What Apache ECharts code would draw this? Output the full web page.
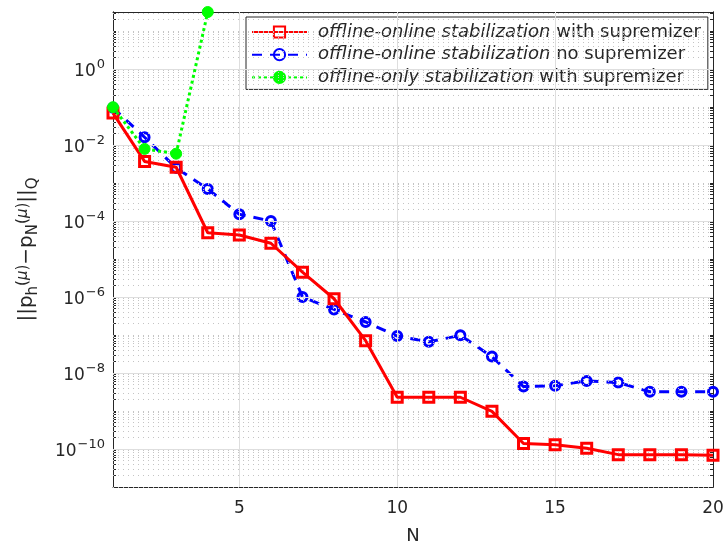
<!DOCTYPE html>
<html>
<head>
<meta charset="utf-8">
<script src="https://cdn.jsdelivr.net/npm/echarts@6/dist/echarts.min.js"></script>
<style>html,body{margin:0;padding:0;background:#fff}#c{width:727px;height:546px}</style>
</head>
<body>
<div id="c"></div>
<script>
const nValues = [1,2,3,4,5,6,7,8,9,10,11,12,13,14,15,16,17,18,19,20];
const ooWithSup = [0.069,3.7e-3,2.6e-3,4.9e-5,4.3e-5,2.6e-5,4.5e-6,9e-7,7.1e-8,2.3e-9,2.3e-9,2.3e-9,9.8e-10,1.4e-10,1.3e-10,1.05e-10,7.1e-11,7.1e-11,7.1e-11,6.8e-11];
const ooNoSup = [0.095,0.016,2.5e-3,7e-4,1.5e-4,1.0e-4,1.0e-6,4.7e-7,2.2e-7,9.4e-8,6.6e-8,9.8e-8,2.7e-8,4.4e-9,4.6e-9,6.2e-9,5.6e-9,3.2e-9,3.2e-9,3.2e-9];
const offWithSup = [0.099,7.9e-3,5.9e-3,31.6];
const xTicks = [5,10,15,20];
const yTicks = [1e-10,1e-8,1e-6,1e-4,1e-2,1];
const seriesNames = [
  'offline-online stabilization|with supremizer',
  'offline-online stabilization|no supremizer',
  'offline-only stabilization|with supremizer'
];

const yMin = 1e-11, yMax = Math.pow(10, 1.5);
const minorVals = [];
for (let k = -11; k <= 1; k++) {
  for (let m = 1; m <= 9; m++) {
    if (m === 1 && k % 2 === 0) continue;
    const v = m * Math.pow(10, k);
    if (v >= yMin && v <= yMax) minorVals.push(v);
  }
}

const pairs = (arr) => arr.map((v, i) => [nValues[i], v]);
const FONT = 'DejaVu Sans';
const TXT = '#262626';

const chart = echarts.init(document.getElementById('c'), null, {renderer: 'canvas'});

const yBase = {
  type: 'log', min: yMin, max: yMax, logBase: 10,
  axisLine: {show: true, lineStyle: {color: TXT, width: 1}},
  splitLine: {show: false}, minorTick: {show: false}, minorSplitLine: {show: false}
};

chart.setOption({
  animation: false,
  grid: {left: 113, right: 14, top: 12, bottom: 59, containLabel: false, outerBoundsMode: 'none'},
  legend: {
    data: seriesNames,
    orient: 'vertical',
    left: 246, top: 17,
    padding: [6, 7, 3, 5],
    itemWidth: 55, itemHeight: 14, itemGap: 4.7,
    backgroundColor: '#fff',
    borderColor: TXT, borderWidth: 1,
    formatter: (name) => {
      const p = name.split('|');
      return '{i|' + p[0] + '} {n|' + p[1] + '}';
    },
    textStyle: {
      fontFamily: FONT, fontSize: 18, color: TXT, padding: [0, 0, 0, 6], lineHeight: 18,
      rich: {
        i: {fontFamily: FONT, fontSize: 18, fontStyle: 'italic', color: TXT, lineHeight: 18},
        n: {fontFamily: FONT, fontSize: 18, color: TXT, lineHeight: 18}
      }
    }
  },
  xAxis: [{
    type: 'value', min: 1, max: 20, position: 'bottom',
    name: 'N', nameLocation: 'middle', nameGap: 40,
    nameTextStyle: {fontFamily: FONT, fontSize: 18, color: TXT},
    axisLine: {show: true, onZero: false, lineStyle: {color: TXT, width: 1}},
    axisTick: {show: true, inside: true, length: 6, customValues: xTicks, lineStyle: {color: TXT}},
    axisLabel: {show: true, customValues: xTicks, margin: 13, fontFamily: FONT, fontSize: 17, color: TXT},
    splitLine: {show: false}
  }, {
    type: 'value', min: 1, max: 20, position: 'top',
    axisLine: {show: true, onZero: false, lineStyle: {color: TXT, width: 1}},
    axisTick: {show: true, inside: true, length: 6, customValues: xTicks, lineStyle: {color: TXT}},
    axisLabel: {show: false},
    splitLine: {show: false}
  }],
  yAxis: [Object.assign({}, yBase, {
    position: 'left',
    name: '{n|||p}{sub|h}{s|(}{mu|μ}{s|)}{n|−p}{sub|N}{s|(}{mu|μ}{s|)}{n|||}{sub|Q}',
    nameLocation: 'middle', nameGap: 72, nameRotate: 90,
    nameTextStyle: {
      fontFamily: FONT, fontSize: 20, color: TXT,
      rich: {
        n: {fontFamily: FONT, fontSize: 20, color: TXT},
        sub: {fontFamily: FONT, fontSize: 15, color: TXT, padding: [13, 0, 0, 0]},
        s: {fontFamily: FONT, fontSize: 15, color: TXT, padding: [0, 0, 8, 0]},
        mu: {fontFamily: FONT, fontSize: 15, fontStyle: 'italic', color: TXT, padding: [0, 0, 8, 0]}
      }
    },
    axisTick: {show: true, inside: true, length: 6, customValues: yTicks, lineStyle: {color: TXT}},
    axisLabel: {
      show: true, customValues: yTicks, margin: 8,
      formatter: (v) => {
        const e = Math.round(Math.log10(v));
        return '{b|10}{s|' + (e < 0 ? '−' + (-e) : e) + '}';
      },
      rich: {
        b: {fontFamily: FONT, fontSize: 17, color: TXT, padding: [6, 0, 0, 0]},
        s: {fontFamily: FONT, fontSize: 13, color: TXT, padding: [0, 0, 8, 1]}
      }
    }
  }), Object.assign({}, yBase, {
    position: 'left',
    axisTick: {show: true, inside: true, length: 3, customValues: minorVals, lineStyle: {color: TXT}},
    axisLabel: {show: false}
  }), Object.assign({}, yBase, {
    position: 'right',
    axisTick: {show: true, inside: true, length: 6, customValues: yTicks, lineStyle: {color: TXT}},
    axisLabel: {show: false}
  }), Object.assign({}, yBase, {
    position: 'right',
    axisTick: {show: true, inside: true, length: 3, customValues: minorVals, lineStyle: {color: TXT}},
    axisLabel: {show: false}
  })],
  series: [{
    name: 'grid-minor', type: 'line', data: [], z: 1, silent: true,
    markLine: {
      silent: true, symbol: ['none', 'none'], label: {show: false}, animation: false, precision: 20,
      lineStyle: {color: '#c4c4c4', width: 1, type: [1, 4]},
      data: minorVals.map(v => ({yAxis: v}))
    }
  }, {
    name: 'grid-major', type: 'line', data: [], z: 1, silent: true,
    markLine: {
      silent: true, symbol: ['none', 'none'], label: {show: false}, animation: false, precision: 20,
      lineStyle: {color: '#dedede', width: 1, type: 'solid'},
      data: yTicks.map(v => ({yAxis: v})).concat(xTicks.slice(0, 3).map(v => ({xAxis: v})))
    }
  }, {
    name: seriesNames[0], type: 'line', data: pairs(ooWithSup), z: 5,
    symbol: 'rect', symbolSize: 10,
    lineStyle: {color: '#ff0000', width: 3, type: 'solid'},
    itemStyle: {color: 'rgba(255,255,255,0)', borderColor: '#ff0000', borderWidth: 3}
  }, {
    name: seriesNames[1], type: 'line', data: pairs(ooNoSup), z: 4,
    symbol: 'circle', symbolSize: 9,
    lineStyle: {color: '#0000ff', width: 3, type: [10, 8]},
    itemStyle: {color: 'rgba(255,255,255,0)', borderColor: '#0000ff', borderWidth: 3}
  }, {
    name: seriesNames[2], type: 'line', data: pairs(offWithSup), z: 6,
    symbol: 'circle', symbolSize: 11,
    lineStyle: {color: '#00ff00', width: 3, type: [3, 3]},
    itemStyle: {color: '#00ff00', borderColor: '#00ff00', borderWidth: 1}
  }]
});
</script>
</body>
</html>
